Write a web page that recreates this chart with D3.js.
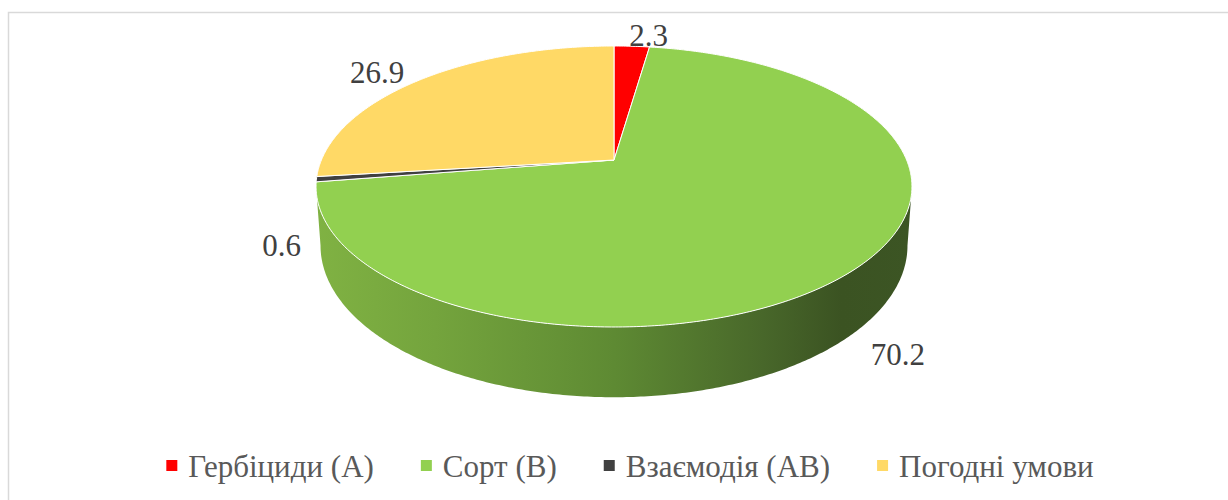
<!DOCTYPE html>
<html>
<head>
<meta charset="utf-8">
<script src="https://cdn.jsdelivr.net/npm/d3@7"></script>
<style>
  html, body { margin: 0; padding: 0; background: #fff; }
  svg { display: block; }
  .serif { font-family: 'Times New Roman', Tinos, 'Liberation Serif', 'Noto Serif', 'DejaVu Serif', FreeSerif, Times, serif; }
</style>
</head>
<body>
<div id="chart"></div>
<script>
// chart data
const categories = ['Гербіциди (А)', 'Сорт (В)', 'Взаємодія (АВ)', 'Погодні умови'];
const values = [2.3, 70.2, 0.6, 26.9];
const sliceColors = ['#FF0000', '#92D050', '#404040', '#FFD966'];

const width = 1228, height = 500;

// 3d pie geometry (perspective tilt)
const cx = 614, cy = 160;
const A = 292.6, B = 135.5, k = 0.1886, D = 57;
// small corrections for label placement (excel "best fit")
const labelShift = [[15, 0], [10, 2], [2, 5], [-22, 0]];

const svg = d3.select('#chart').append('svg')
  .attr('width', width)
  .attr('height', height);

svg.append('rect')
  .attr('x', 8.5).attr('y', 12.5)
  .attr('width', 1250).attr('height', 520)
  .attr('fill', '#fff')
  .attr('stroke', '#D9D9D9')
  .attr('stroke-width', 1.5);

const color = d3.scaleOrdinal().domain(categories).range(sliceColors);

const pie = d3.pie().sort(null).value(d => d.value);
const arcs = pie(categories.map((c, i) => ({ name: c, value: values[i] })));

function proj(theta, r, low) {
  const u = r * Math.sin(theta), v = -r * Math.cos(theta);
  const s = 1 / (1 - k * v);
  let X = cx + A * u * s, Y = cy + B * v * s;
  if (low) {
    X = cx + (X - cx) * 0.985;
    Y += D * s;
  }
  return [X, Y];
}

function edge(a0, a1, low) {
  const n = Math.max(2, Math.ceil(Math.abs(a1 - a0) / 0.01));
  return d3.range(n + 1).map(i => proj(a0 + (a1 - a0) * i / n, 1, low));
}

const line = d3.line();

// side wall gradient
const defs = svg.append('defs');
const grad = defs.append('linearGradient')
  .attr('id', 'wall')
  .attr('gradientUnits', 'userSpaceOnUse')
  .attr('x1', cx - A * 1.02).attr('x2', cx + A * 1.02)
  .attr('y1', 0).attr('y2', 0);
[[0, '#80B243'], [0.2, '#74A43D'], [0.5, '#5E8A33'], [0.75, '#48672A'], [0.88, '#3B5322'], [1, '#3C5524']]
  .forEach(s => grad.append('stop').attr('offset', s[0]).attr('stop-color', s[1]));

// visible front part of the wall
const frontR = Math.acos(-k), frontL = 2 * Math.PI - Math.acos(-k);
arcs.forEach(d => {
  const a0 = Math.max(d.startAngle, frontR), a1 = Math.min(d.endAngle, frontL);
  if (a1 <= a0) return;
  const pts = edge(a0, a1, false).concat(edge(a1, a0, true));
  const c = d3.color(color(d.data.name));
  svg.append('path')
    .attr('d', line(pts) + 'Z')
    .attr('fill', d.data.name === categories[1] ? 'url(#wall)' : c.darker(1.2));
});

// top faces
svg.append('g').selectAll('path')
  .data(arcs)
  .join('path')
  .attr('d', d => line([[cx, cy]].concat(edge(d.startAngle, d.endAngle, false))) + 'Z')
  .attr('fill', d => color(d.data.name))
  .attr('stroke', '#fff')
  .attr('stroke-width', 1)
  .attr('stroke-linejoin', 'round');

// data labels
svg.append('g').selectAll('text')
  .data(arcs)
  .join('text')
  .attr('class', 'serif')
  .attr('x', (d, i) => {
    const m = (d.startAngle + d.endAngle) / 2;
    return proj(m, 1.12, false)[0] + labelShift[i][0];
  })
  .attr('y', (d, i) => {
    const m = (d.startAngle + d.endAngle) / 2;
    const front = Math.cos(m) < 0;
    return proj(m, 1.12, front)[1] + labelShift[i][1];
  })
  .attr('dy', '0.35em')
  .attr('text-anchor', 'middle')
  .style('font-size', '31px')
  .style('fill', '#404040')
  .text(d => d.data.value.toFixed(1));

// legend
const legend = svg.append('g');
const items = legend.selectAll('g')
  .data(categories)
  .join('g');
items.append('rect')
  .attr('width', 11).attr('height', 11)
  .attr('y', -17)
  .attr('fill', d => color(d));
items.append('text')
  .attr('class', 'serif')
  .attr('x', 22)
  .style('font-size', '31px')
  .style('fill', '#595959')
  .text(d => d);

let xpos = 0;
items.each(function () {
  const g = d3.select(this);
  g.attr('transform', `translate(${xpos},0)`);
  xpos += 22 + g.select('text').node().getComputedTextLength() + 47;
});
const total = xpos - 47;
legend.attr('transform', `translate(${630 - total / 2},477)`);
</script>
</body>
</html>
